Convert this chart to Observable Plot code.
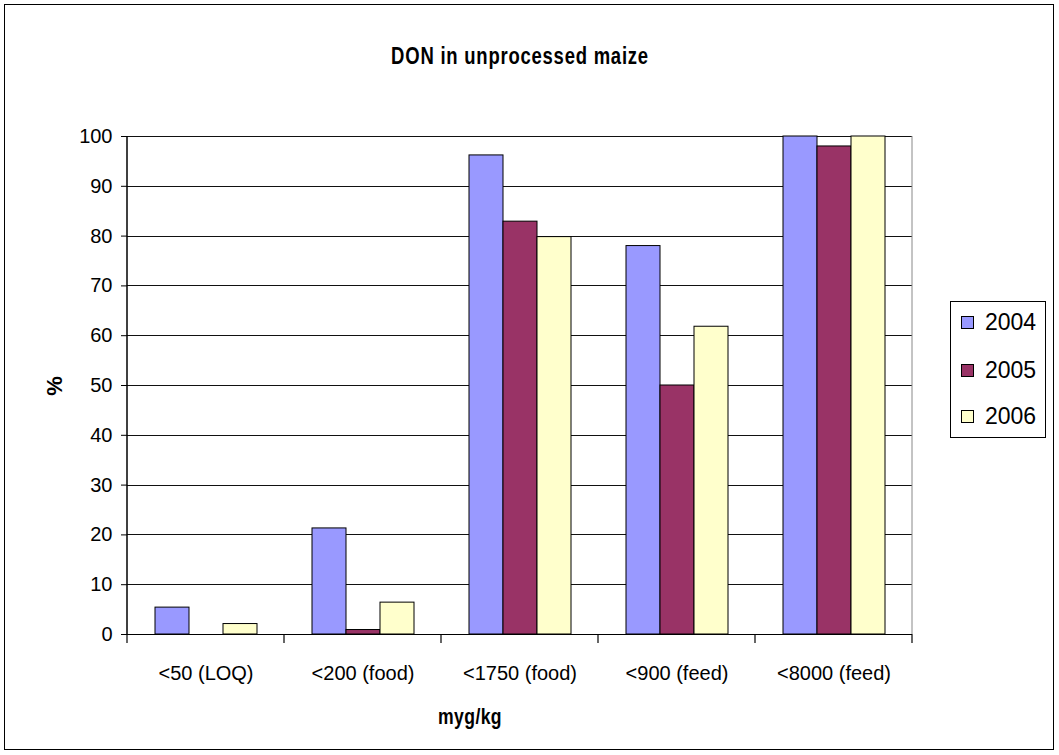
<!DOCTYPE html>
<html>
<head>
<meta charset="utf-8">
<script src="https://cdn.jsdelivr.net/npm/d3@7"></script>
<script src="https://cdn.jsdelivr.net/npm/@observablehq/plot@0.6"></script>
<style>
  html, body { margin: 0; padding: 0; background: #fff; }
  body { width: 1059px; height: 755px; position: relative; overflow: hidden; font-family: "Liberation Sans", Arial, sans-serif; }
  #frame { position: absolute; left: 4px; top: 4px; width: 1050px; height: 746px; border: 1px solid #000; box-sizing: border-box; }
  #title { position: absolute; left: 220px; width: 600px; top: 41px; text-align: center; font-weight: bold; font-size: 24px; line-height: 30px; letter-spacing: 1px; transform: scaleX(0.77); transform-origin: 50% 50%; white-space: nowrap; }
  #chart { position: absolute; left: 0; top: 100px; }
  #ylab { position: absolute; left: 55px; top: 386px; transform: translate(-50%, -50%) rotate(-90deg); font-weight: bold; font-size: 22px; line-height: 26px; white-space: nowrap; }
  #xlab { position: absolute; left: 370px; width: 200px; top: 704px; text-align: center; font-weight: bold; font-size: 22px; line-height: 26px; letter-spacing: 0.5px; transform: scaleX(0.8); white-space: nowrap; }
  #legend { position: absolute; left: 950px; top: 301px; width: 96px; height: 137px; border: 1px solid #000; box-sizing: border-box; background: #fff; }
  .row { position: absolute; left: 0; height: 28px; line-height: 28px; font-size: 23px; white-space: nowrap; }
  .sw { position: absolute; left: 10px; top: 8px; width: 11px; height: 11px; border: 1px solid #000; }
  .lt { position: absolute; left: 34px; top: 0; }
</style>
</head>
<body>
<div id="frame"></div>
<div id="title">DON in unprocessed maize</div>
<div id="chart"></div>
<div id="ylab">%</div>
<div id="xlab">myg/kg</div>
<div id="legend"></div>
<script>
const categories = ["<50 (LOQ)", "<200 (food)", "<1750 (food)", "<900 (feed)", "<8000 (feed)"];
const years = ["2004", "2005", "2006"];
const v2004 = [5.4, 21.3, 96.2, 78.0, 100];
const v2005 = [0, 0.9, 82.9, 50.0, 98];
const v2006 = [2.1, 6.4, 79.8, 61.8, 100];
const colors = ["#9999FF", "#993366", "#FFFFCC"];
const yTicks = [0, 10, 20, 30, 40, 50, 60, 70, 80, 90, 100];

const series = [v2004, v2005, v2006];
const data = [];
categories.forEach((c, i) => years.forEach((yr, j) => data.push({category: c, year: yr, value: series[j][i]})));

const chart = Plot.plot({
  width: 940,
  height: 650,
  marginLeft: 127,
  marginRight: 28,
  marginTop: 36,
  marginBottom: 116,
  style: {fontFamily: "'Liberation Sans', Arial, sans-serif", fontSize: "20px", background: "transparent", color: "#000"},
  fx: {domain: categories, paddingInner: 0, paddingOuter: 0, axis: "bottom", tickSize: 0, tickPadding: 31, label: null},
  x: {domain: years, paddingInner: 0, paddingOuter: 0.75, axis: null},
  y: {domain: [0, 100], ticks: yTicks, tickSize: 6, tickPadding: 9, label: null, tickFormat: d3.format("d")},
  color: {domain: years, range: colors},
  marks: [
    Plot.ruleY(yTicks.filter(d => d > 0), {stroke: "#111", strokeWidth: 1, shapeRendering: "crispEdges"}),
    Plot.barY(data, {fx: "category", x: "year", y: "value", fill: "year", stroke: "#000", strokeWidth: 1}),
    Plot.ruleY([0], {stroke: "#000", strokeWidth: 1.2})
  ]
});
document.getElementById("chart").appendChild(chart);

// axis line, category boundary ticks and right edge, from the library's own scales
const fxS = chart.scale("fx");
const yS = chart.scale("y");
const lefts = categories.map(c => fxS.apply(c));
const bounds = [...lefts, lefts[lefts.length - 1] + fxS.bandwidth];
const y0 = yS.apply(0), y100 = yS.apply(100);
const g = d3.select(chart).append("g");
g.selectAll("line.b").data(bounds).join("line")
  .attr("x1", d => d).attr("x2", d => d)
  .attr("y1", y0).attr("y2", y0 + 9)
  .attr("stroke", "#000").attr("stroke-width", 1.2);
g.append("line").attr("x1", bounds[0]).attr("x2", bounds[0]).attr("y1", y100).attr("y2", y0)
  .attr("stroke", "#000").attr("stroke-width", 1.5);
g.append("line").attr("x1", bounds[bounds.length - 1]).attr("x2", bounds[bounds.length - 1]).attr("y1", y100).attr("y2", y0)
  .attr("stroke", "#888").attr("stroke-width", 1);

// legend
const legend = document.getElementById("legend");
const rowTops = [6, 54, 100];
years.forEach((yr, i) => {
  const row = document.createElement("div");
  row.className = "row";
  row.style.top = rowTops[i] + "px";
  row.innerHTML = `<span class="sw" style="background:${colors[i]}"></span><span class="lt">${yr}</span>`;
  legend.appendChild(row);
});
</script>
</body>
</html>
